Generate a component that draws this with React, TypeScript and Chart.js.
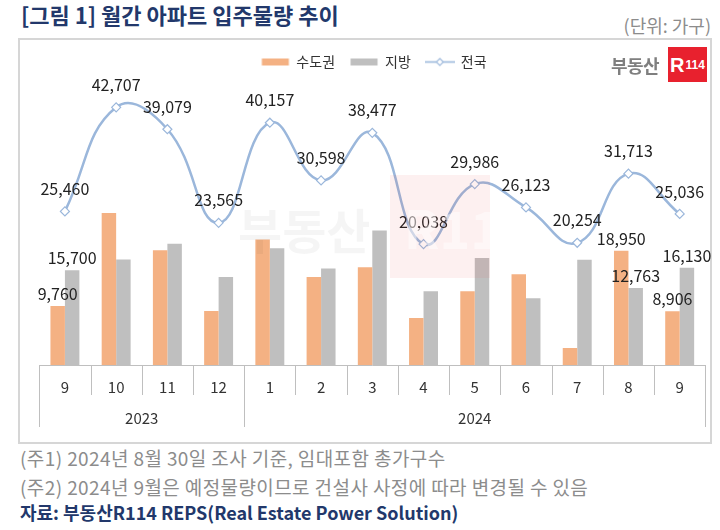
import React, { useEffect, useRef } from 'react';
import { Chart, registerables } from 'chart.js';

Chart.register(...registerables);

// ---- data ----
const months = ['9', '10', '11', '12', '1', '2', '3', '4', '5', '6', '7', '8', '9'];
const yearLabels = ['2023', '2024'];
const yearStarts = [0, 4];
const yearEnds = [4, 13];
const capital = [9760, 25210, 19000, 8970, 20820, 14600, 16200, 7800, 12240, 15050, 2830, 18950, 8906];
const regional = [15700, 17497, 20079, 14595, 19337, 15998, 22277, 12238, 17746, 11073, 17424, 12763, 16130];
const national = [25460, 42707, 39079, 23565, 40157, 30598, 38477, 20038, 29986, 26123, 20254, 31713, 25036];
const barLabelIndexes = [0, 11, 12];
const seriesNames = ['수도권', '지방', '전국'];

const FONT = '"Noto Sans CJK KR", "Noto Sans", sans-serif';
const ORANGE = '#F4B183';
const GRAY = '#BFBFBF';
const BLUE = '#9BB7DB';

function makeSwatch(kind: string): HTMLCanvasElement {
  const c = document.createElement('canvas');
  c.width = 30;
  c.height = 11;
  const g = c.getContext('2d')!;
  if (kind === 'line') {
    g.strokeStyle = BLUE;
    g.lineWidth = 1.6;
    g.beginPath();
    g.moveTo(0, 5.5);
    g.lineTo(30, 5.5);
    g.stroke();
    g.beginPath();
    g.moveTo(15, 2);
    g.lineTo(18.5, 5.5);
    g.lineTo(15, 9);
    g.lineTo(11.5, 5.5);
    g.closePath();
    g.fillStyle = '#fff';
    g.fill();
    g.lineWidth = 1.1;
    g.stroke();
  } else {
    g.fillStyle = kind;
    g.fillRect(1.5, 2, 27, 7);
  }
  return c;
}

const valueLabelPlugin = {
  id: 'valueLabels',
  afterDatasetsDraw(chart: any) {
    const ctx = chart.ctx;
    ctx.save();
    ctx.font = `16px ${FONT}`;
    ctx.fillStyle = '#222';
    ctx.textAlign = 'center';
    ctx.textBaseline = 'middle';
    chart.data.datasets.forEach((ds: any, di: number) => {
      const meta = chart.getDatasetMeta(di);
      meta.data.forEach((el: any, i: number) => {
        const v = ds.data[i] as number;
        const txt = v.toLocaleString('en-US');
        if (ds.type === 'line') {
          ctx.fillText(txt, el.x, el.y - 22.5);
        } else if (barLabelIndexes.includes(i)) {
          ctx.fillText(txt, el.x, el.y - 12);
        }
      });
    });
    ctx.restore();
  },
};

const axisDecorPlugin = {
  id: 'axisDecor',
  afterDraw(chart: any) {
    const ctx = chart.ctx;
    const area = chart.chartArea;
    const n = months.length;
    const w = (area.right - area.left) / n;
    const b = area.bottom;
    ctx.save();
    ctx.strokeStyle = '#BFBFBF';
    ctx.lineWidth = 1;
    ctx.beginPath();
    ctx.moveTo(area.left, b + 0.5);
    ctx.lineTo(area.right, b + 0.5);
    ctx.stroke();
    const bigIdx = new Set<number>([...yearStarts, ...yearEnds]);
    for (let i = 0; i <= n; i++) {
      const x = Math.round(area.left + i * w) + 0.5;
      ctx.beginPath();
      ctx.moveTo(x, b);
      ctx.lineTo(x, b + (bigIdx.has(i) ? 62 : 30));
      ctx.stroke();
    }
    ctx.font = `15px ${FONT}`;
    ctx.fillStyle = '#333';
    ctx.textAlign = 'center';
    ctx.textBaseline = 'middle';
    yearLabels.forEach((lab, k) => {
      const cx = area.left + ((yearStarts[k] + yearEnds[k]) / 2) * w;
      ctx.fillText(lab, cx, b + 53);
    });
    ctx.restore();
  },
};

function ChartBox() {
  const ref = useRef<HTMLCanvasElement | null>(null);
  useEffect(() => {
    if (!ref.current) return;
    Chart.defaults.font.family = FONT;
    const swatches = [makeSwatch(ORANGE), makeSwatch(GRAY), makeSwatch('line')];
    const chart = new Chart(ref.current, {
      type: 'bar',
      data: {
        labels: months,
        datasets: [
          {
            type: 'bar',
            label: seriesNames[0],
            data: capital,
            backgroundColor: ORANGE,
            categoryPercentage: 0.565,
            barPercentage: 1,
            order: 1,
          } as any,
          {
            type: 'bar',
            label: seriesNames[1],
            data: regional,
            backgroundColor: GRAY,
            categoryPercentage: 0.565,
            barPercentage: 1,
            order: 1,
          } as any,
          {
            type: 'line',
            label: seriesNames[2],
            data: national,
            borderColor: BLUE,
            borderWidth: 2.5,
            tension: 0.45,
            pointStyle: 'rectRot',
            pointRadius: 4.5,
            pointBackgroundColor: '#fff',
            pointBorderColor: BLUE,
            pointBorderWidth: 1.2,
            order: 0,
          } as any,
        ],
      },
      options: {
        responsive: false,
        animation: false,
        devicePixelRatio: 1,
        layout: { padding: { top: 2, left: 20.3, right: 2.4, bottom: 0 } },
        plugins: {
          tooltip: { enabled: false },
          legend: {
            display: true,
            position: 'top',
            labels: {
              usePointStyle: true,
              pointStyleWidth: 28,
              padding: 15,
              color: '#333',
              font: { size: 14, family: FONT },
              sort: (a: any, b: any) => a.datasetIndex - b.datasetIndex,
              generateLabels: (c: any) => {
                const items = (Chart.defaults.plugins.legend.labels as any).generateLabels(c);
                items.forEach((it: any) => {
                  it.pointStyle = swatches[it.datasetIndex];
                });
                return items;
              },
            },
          },
        },
        scales: {
          x: {
            grid: { display: false, drawTicks: false },
            border: { display: false },
            ticks: { color: '#333', font: { size: 15, family: FONT }, padding: 13, maxRotation: 0 },
            afterFit: (s: any) => {
              s.height = 78;
            },
          },
          y: {
            display: false,
            min: 0,
            max: 47400,
          },
        },
      } as any,
      plugins: [valueLabelPlugin, axisDecorPlugin],
    });
    return () => chart.destroy();
  }, []);
  return (
    <canvas
      ref={ref}
      width={692}
      height={405}
      style={{ position: 'absolute', left: 19, top: 38, width: 692, height: 405 }}
    />
  );
}

export default function App() {
  return (
    <div style={{ position: 'absolute', left: 0, top: 0, width: 720, height: 530, background: '#fff', fontFamily: FONT, overflow: 'hidden' }}>
      <div style={{ position: 'absolute', left: 21, top: 0, fontSize: 22, fontWeight: 700, color: '#22386B', lineHeight: '28px', whiteSpace: 'nowrap' }}>
        [그림 1] 월간 아파트 입주물량 추이
      </div>
      <div style={{ position: 'absolute', right: 9, top: 13, fontSize: 18, color: '#8C8C8C', lineHeight: '24px', whiteSpace: 'nowrap' }}>
        (단위: 가구)
      </div>
      <div style={{ position: 'absolute', left: 18, top: 38, width: 694, height: 406, boxSizing: 'border-box', border: '2px solid #D6D6D6' }} />
      <ChartBox />
      {/* watermark */}
      <div style={{ position: 'absolute', left: 238, top: 200, fontSize: 48, fontWeight: 700, color: 'rgba(0,0,0,0.04)', lineHeight: '56px', whiteSpace: 'nowrap', pointerEvents: 'none' }}>
        부동산
      </div>
      <div style={{ position: 'absolute', left: 390, top: 175, width: 100, height: 103, background: 'rgba(232,60,60,0.08)', pointerEvents: 'none' }}>
        <div style={{ position: 'absolute', left: 14, top: 22, fontSize: 52, fontWeight: 700, color: 'rgba(255,255,255,0.5)', lineHeight: '60px' }}>R114</div>
      </div>
      {/* logo */}
      <div style={{ position: 'absolute', left: 611, top: 52, fontSize: 18, fontWeight: 700, color: '#7F7F7F', lineHeight: '26px', whiteSpace: 'nowrap', letterSpacing: -0.5 }}>
        부동산
      </div>
      <div style={{ position: 'absolute', left: 668, top: 47, width: 39, height: 35, background: '#E8212E', color: '#fff', fontWeight: 700, display: 'flex', alignItems: 'center', justifyContent: 'center', whiteSpace: 'nowrap' }}>
        <span style={{ fontSize: 20, lineHeight: '20px', fontFamily: '"Liberation Sans", sans-serif' }}>R</span>
        <span style={{ fontSize: 12, lineHeight: '14px', fontFamily: '"Liberation Sans", sans-serif', marginLeft: 1 }}>114</span>
      </div>
      {/* notes */}
      <div style={{ position: 'absolute', left: 20, top: 444, fontSize: 19, letterSpacing: 0.4, color: '#8C8C8C', lineHeight: '28px', whiteSpace: 'nowrap' }}>
        (주1) 2024년 8월 30일 조사 기준, 임대포함 총가구수
      </div>
      <div style={{ position: 'absolute', left: 20, top: 473, fontSize: 19, letterSpacing: 0.4, color: '#8C8C8C', lineHeight: '28px', whiteSpace: 'nowrap' }}>
        (주2) 2024년 9월은 예정물량이므로 건설사 사정에 따라 변경될 수 있음
      </div>
      <div style={{ position: 'absolute', left: 20, top: 499, fontSize: 18, fontWeight: 700, color: '#22386B', lineHeight: '26px', whiteSpace: 'nowrap' }}>
        자료: 부동산R114 REPS(Real Estate Power Solution)
      </div>
    </div>
  );
}
